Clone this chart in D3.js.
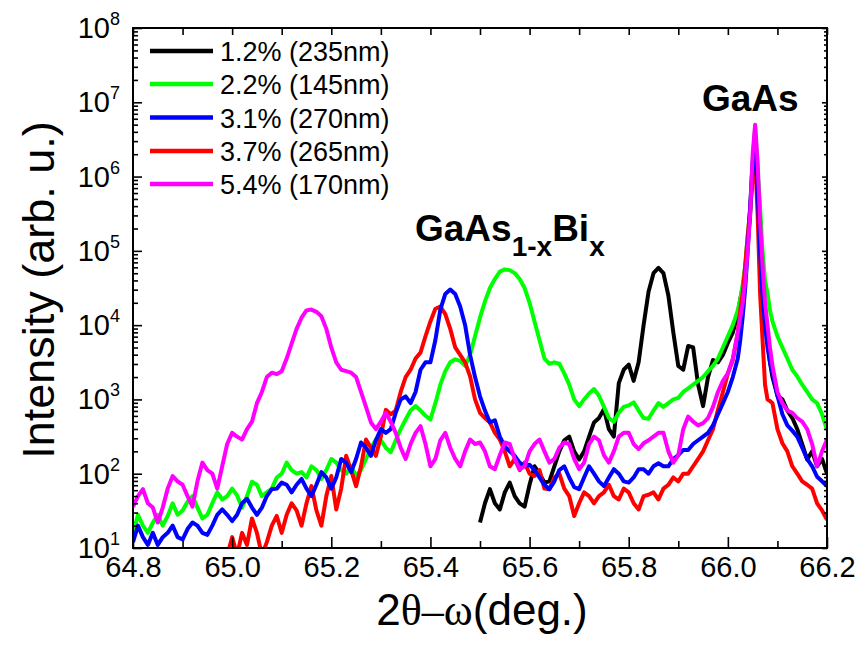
<!DOCTYPE html>
<html><head><meta charset="utf-8">
<script src="https://cdn.jsdelivr.net/npm/d3@7"></script>
<style>body{margin:0;background:#fff}svg{display:block}text{font-family:"Liberation Sans",Arial,sans-serif}</style>
</head><body><svg id="c" width="862" height="650"></svg>
<script>
// angle grid (deg): 0.01 step, 0.005 step around the GaAs substrate peak
const angles = [
  ...d3.range(6480, 6602).map(d => d / 100),
  ...d3.range(13204, 13218).map(d => d / 200),
  ...d3.range(6609, 6621).map(d => d / 100)
];
const seriesNames = ["1.2% (235nm)", "2.2% (145nm)", "3.1% (270nm)", "3.7% (265nm)", "5.4% (170nm)"];
const seriesColors = ["#000000", "#00ff00", "#0000ff", "#ff0000", "#ff00ff"];
const seriesStart = [65.50, 64.80, 64.80, 64.99, 64.80];

const black12 = [
22,40,62,40,33,56,76,50,40,36,
71,126,100,76,79,126,200,282,316,200,
155,200,316,490,562,741,398,316,1660,2510,
2950,1780,3160,10000,28200,50100,58900,50100,25100,7940,
2820,2510,5250,5010,1580,813,2000,3390,3160,3980,
5750,7940,
14100,22400,31600,56200,126000,316000,1260000,3160000,1000000,200000,39800,12600,6310,3160,
2000,1120,1000,708,562,398,251,155,200,126,158,100];

const green22 = [
16,28,20,16,22,28,20,27,40,28,
32,42,50,35,25,28,40,56,45,50,
63,51,35,50,78,71,50,56,63,89,
100,141,112,100,105,89,126,112,85,112,
158,141,112,100,126,93,112,158,224,288,
282,224,195,282,398,537,708,813,708,603,
537,891,1580,2400,3160,3470,3310,2820,3980,7080,
12600,20900,31600,41700,52500,56200,55000,50100,41700,31600,
20000,11200,6310,3550,3020,3160,3020,2240,1580,1000,
813,1000,1200,1380,1120,794,562,501,661,794,
832,912,708,562,550,708,891,794,891,1000,
1050,1260,1410,1580,1780,2000,2400,2820,3550,5010,
7080,10000,
15800,22400,35500,63100,158000,355000,1580000,4470000,1260000,398000,100000,39800,26900,15800,
11200,7080,5010,3550,2510,2040,1580,1260,1000,891,631,389];

const blue31 = [
12,20,14,11,16,11,14,16,20,14,
13,18,22,20,16,15,20,28,33,28,
23,28,40,46,35,28,35,50,62,63,
76,71,56,71,85,63,50,71,105,89,
63,89,158,141,105,158,263,224,174,282,
398,355,398,661,1000,1100,891,1260,2510,3160,
3160,6310,16200,26300,30200,26300,17800,10000,3980,2000,
1100,708,490,525,316,234,200,174,141,126,
132,112,89,71,62,79,112,126,89,66,
62,89,126,100,79,68,89,115,100,79,
76,89,115,115,100,126,138,126,126,158,
178,209,209,251,282,316,355,447,631,891,
1260,2000,
3550,6310,13200,31600,100000,398000,1580000,2240000,631000,100000,25100,10000,5010,3160,
2240,1120,631,447,380,316,224,158,126,91,79,68];

const red37 = [
7.9,
14,8,16,11,25,16,8,12,20,27,
16,28,40,32,20,40,68,32,20,50,
93,33,63,174,112,68,126,288,224,174,
316,724,631,708,1260,2000,2510,3550,4270,7080,
11200,16600,17800,14100,8910,5010,3980,3160,2040,1000,
661,562,490,355,288,200,126,158,112,141,
100,93,112,63,62,89,100,63,50,27,
40,56,50,40,50,56,71,50,45,63,
56,40,33,50,52,56,45,63,71,89,
79,100,100,126,158,200,282,398,724,1260,
2240,3390,
7940,15800,26900,63100,158000,355000,1000000,1780000,316000,26900,6310,1580,1000,955,
891,398,257,200,126,100,79,71,63,40,32,24];

const magenta54 = [
36,50,62,40,35,22,35,63,93,79,
71,50,36,79,141,112,100,63,126,251,
355,316,288,398,501,891,1260,2000,2290,2190,
2400,3550,5620,8910,12600,15800,16200,15100,13200,8910,
5010,3160,2510,2400,2290,2000,1260,794,490,398,
501,661,501,355,224,158,251,355,437,251,
126,158,282,355,224,158,126,200,288,251,
263,200,126,115,178,263,251,158,115,126,
200,251,288,200,141,158,224,263,251,158,
115,141,251,316,282,178,141,200,316,355,
355,251,214,257,282,316,355,355,200,141,
178,398,589,501,447,479,562,794,1260,1780,
2240,3550,
7940,12600,20000,39800,100000,316000,2000000,5000000,1580000,251000,63100,20000,10000,5010,
2820,1260,891,708,661,562,501,398,251,126,200,288];

const seriesValues = [black12, green22, blue31, red37, magenta54];
const drawOrder = [0, 1, 3, 2, 4];

const xMajorTicks = [64.8, 65.0, 65.2, 65.4, 65.6, 65.8, 66.0, 66.2];
const xTickLabels = ["64.8", "65.0", "65.2", "65.4", "65.6", "65.8", "66.0", "66.2"];
const xMinorTicks = [64.9, 65.1, 65.3, 65.5, 65.7, 65.9, 66.1];
const yDecades = [1e1, 1e2, 1e3, 1e4, 1e5, 1e6, 1e7, 1e8];
const yExponents = ["1", "2", "3", "4", "5", "6", "7", "8"];

const L = 133, R = 827, T = 28, B = 548;
const svg = d3.select("#c");
const x = d3.scaleLinear().domain([64.8, 66.2]).range([L, R]);
const y = d3.scaleLog().domain([1e1, 1e8]).range([B, T]);

const yMinor = [];
for (let e = 1; e < 8; e++) for (let m = 2; m <= 9; m++) yMinor.push(m * Math.pow(10, e));

svg.append("defs").append("clipPath").attr("id", "clip")
  .append("rect").attr("x", L).attr("y", T).attr("width", R - L).attr("height", B - T);

// data lines
const line = d3.line().x(d => x(d[0])).y(d => y(d[1]));
const gLines = svg.append("g").attr("clip-path", "url(#clip)");
drawOrder.forEach(i => {
  const s = angles.findIndex(a => Math.abs(a - seriesStart[i]) < 1e-6);
  const pts = seriesValues[i].map((v, k) => [angles[s + k], v]);
  gLines.append("path").datum(pts).attr("d", line)
    .attr("fill", "none").attr("stroke", seriesColors[i])
    .attr("stroke-width", 4).attr("stroke-linejoin", "round");
});

// axes
function styleAxis(g) { g.select(".domain").remove(); g.selectAll("line").attr("stroke", "#000").attr("stroke-width", 1.6); }
svg.append("g").attr("transform", `translate(0,${B})`)
  .call(d3.axisBottom(x).tickValues(xMajorTicks).tickSize(-11).tickPadding(8).tickFormat((d, i) => xTickLabels[i]))
  .call(styleAxis)
  .selectAll("text").attr("font-size", 29).attr("fill", "#000").attr("font-family", '"Liberation Sans",Arial,sans-serif');
svg.append("g").attr("transform", `translate(0,${B})`)
  .call(d3.axisBottom(x).tickValues(xMinorTicks).tickSize(-7).tickFormat(""))
  .call(styleAxis);
svg.append("g").attr("transform", `translate(0,${T})`)
  .call(d3.axisTop(x).tickValues(xMajorTicks.concat(xMinorTicks)).tickSize(-7).tickFormat(""))
  .call(styleAxis);
svg.append("g").attr("transform", `translate(${L},0)`)
  .call(d3.axisLeft(y).tickValues(yDecades).tickSize(-9).tickFormat(""))
  .call(styleAxis);
svg.append("g").attr("transform", `translate(${L},0)`)
  .call(d3.axisLeft(y).tickValues(yMinor).tickSize(-5).tickFormat(""))
  .call(styleAxis);
svg.append("g").attr("transform", `translate(${R},0)`)
  .call(d3.axisRight(y).tickValues(yDecades).tickSize(-5).tickFormat(""))
  .call(styleAxis);
svg.append("g").attr("transform", `translate(${R},0)`)
  .call(d3.axisRight(y).tickValues(yMinor).tickSize(-3).tickFormat(""))
  .call(styleAxis);

// y tick labels 10^n
yDecades.forEach((v, i) => {
  const t = svg.append("text").attr("x", 120).attr("y", y(v) + 10)
    .attr("text-anchor", "end").attr("font-size", 29).attr("fill", "#000");
  t.append("tspan").text("10");
  t.append("tspan").attr("dy", -13).attr("font-size", 18).text(yExponents[i]);
});

// frame
svg.append("rect").attr("x", L).attr("y", T).attr("width", R - L).attr("height", B - T)
  .attr("fill", "none").attr("stroke", "#000").attr("stroke-width", 2);

// axis titles
const xt = svg.append("text").attr("x", 482).attr("y", 625).attr("text-anchor", "middle")
  .attr("font-size", 44).attr("fill", "#000");
xt.append("tspan").text("2");
xt.append("tspan").attr("font-family", '"Liberation Serif","DejaVu Serif",serif').text("θ–ω");
xt.append("tspan").text("(deg.)");
svg.append("text").attr("transform", "translate(54,290) rotate(-90)").attr("text-anchor", "middle")
  .attr("font-size", 45).attr("fill", "#000").text("Intensity (arb. u.)");

// legend
const legendRows = [51, 84, 117.5, 151, 184];
seriesNames.forEach((n, i) => {
  svg.append("line").attr("x1", 150).attr("x2", 213).attr("y1", legendRows[i]).attr("y2", legendRows[i])
    .attr("stroke", seriesColors[i]).attr("stroke-width", 4.5);
  svg.append("text").attr("x", 220).attr("y", legendRows[i] + 10).attr("font-size", 27)
    .attr("fill", "#000").text(n);
});

// peak annotations
svg.append("text").attr("x", 702).attr("y", 111).attr("font-size", 37).attr("font-weight", "bold")
  .attr("fill", "#000").text("GaAs");
const ann = svg.append("text").attr("x", 415).attr("y", 241).attr("font-size", 37)
  .attr("font-weight", "bold").attr("fill", "#000");
ann.append("tspan").text("GaAs");
ann.append("tspan").attr("dy", 15).attr("font-size", 28).text("1-x");
ann.append("tspan").attr("dy", -15).text("Bi");
ann.append("tspan").attr("dy", 15).attr("font-size", 28).text("x");
</script></body></html>
